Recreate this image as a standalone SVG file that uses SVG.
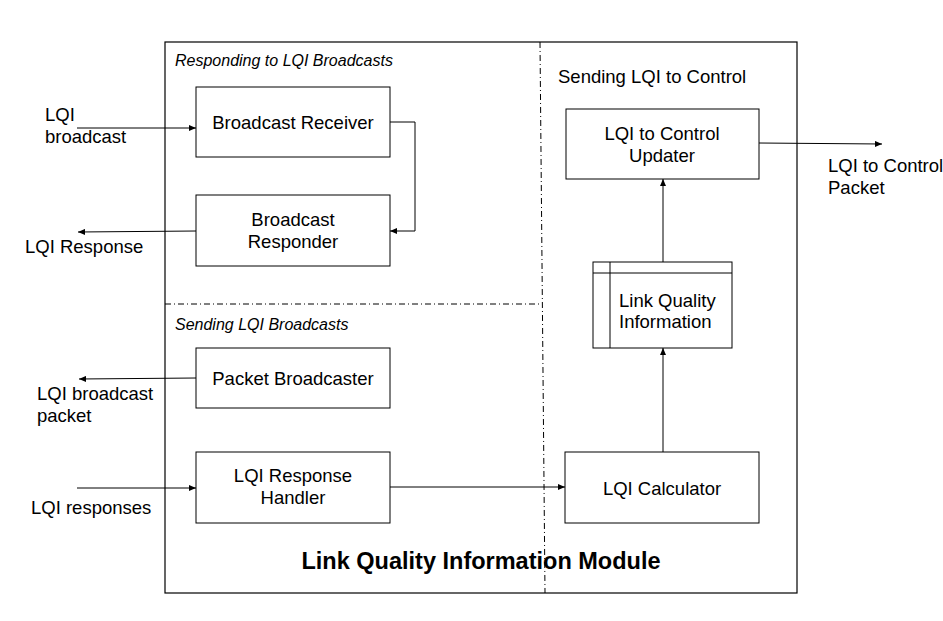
<svg xmlns="http://www.w3.org/2000/svg" width="943" height="621" viewBox="0 0 943 621">
<style>
text{font-family:"Liberation Sans",Arial,sans-serif;fill:#000}
.lbl{font-size:18.5px}
.it{font-size:16px;font-style:italic}
.box{fill:#fff;stroke:#000;stroke-width:1}
.con{fill:none;stroke:#000;stroke-width:1}
.dd{fill:none;stroke:#000;stroke-width:1;stroke-dasharray:6 3 1 3}
</style>
<defs>
<marker id="ah" markerWidth="8" markerHeight="6" refX="7" refY="3" orient="auto" markerUnits="userSpaceOnUse">
<path d="M0,0 L7,3 L0,6 Z" fill="#000"/>
</marker>
</defs>
<rect width="943" height="621" fill="#fff"/>
<g id="module">
<rect x="165" y="42" width="632" height="551" fill="none" stroke="#000" stroke-width="1.2"/>
<line class="dd" x1="540" y1="42" x2="545" y2="593"/>
<line class="dd" x1="165" y1="304" x2="541" y2="304"/>
<text class="it" x="175" y="66">Responding to LQI Broadcasts</text>
<text class="it" x="175" y="330">Sending LQI Broadcasts</text>
<text class="lbl" x="558" y="83">Sending LQI to Control</text>
<text x="481" y="569" text-anchor="middle" font-size="23.5" font-weight="bold">Link Quality Information Module</text>
</g>
<g id="broadcast-receiver">
<rect class="box" x="196" y="87" width="194" height="70"/>
<text class="lbl" x="293" y="129" text-anchor="middle">Broadcast Receiver</text>
</g>
<g id="broadcast-responder">
<rect class="box" x="196" y="195" width="194" height="71"/>
<text class="lbl" x="293" y="226" text-anchor="middle">Broadcast</text>
<text class="lbl" x="293" y="248" text-anchor="middle">Responder</text>
</g>
<g id="packet-broadcaster">
<rect class="box" x="196" y="348" width="194" height="60"/>
<text class="lbl" x="293" y="385" text-anchor="middle">Packet Broadcaster</text>
</g>
<g id="lqi-response-handler">
<rect class="box" x="196" y="452" width="194" height="71"/>
<text class="lbl" x="293" y="482" text-anchor="middle">LQI Response</text>
<text class="lbl" x="293" y="504" text-anchor="middle">Handler</text>
</g>
<g id="lqi-to-control-updater">
<rect class="box" x="566" y="109" width="193" height="70"/>
<text class="lbl" x="662" y="140" text-anchor="middle">LQI to Control</text>
<text class="lbl" x="662" y="162" text-anchor="middle">Updater</text>
</g>
<g id="link-quality-information">
<rect class="box" x="593" y="262" width="139" height="86"/>
<line class="con" x1="610" y1="262" x2="610" y2="348"/>
<line class="con" x1="593" y1="273" x2="732" y2="273"/>
<text class="lbl" x="619" y="307">Link Quality</text>
<text class="lbl" x="619" y="328">Information</text>
</g>
<g id="lqi-calculator">
<rect class="box" x="565" y="452" width="194" height="71"/>
<text class="lbl" x="662" y="495" text-anchor="middle">LQI Calculator</text>
</g>
<g id="external-labels">
<text class="lbl" x="45" y="121">LQI</text>
<text class="lbl" x="45" y="143">broadcast</text>
<text class="lbl" x="25" y="253">LQI Response</text>
<text class="lbl" x="37" y="400">LQI broadcast</text>
<text class="lbl" x="37" y="422">packet</text>
<text class="lbl" x="31" y="514">LQI responses</text>
<text class="lbl" x="828" y="172">LQI to Control</text>
<text class="lbl" x="828" y="194">Packet</text>
</g>
<g id="connectors">
<line class="con" x1="77" y1="128" x2="196" y2="128" marker-end="url(#ah)"/>
<polyline class="con" points="390,122 415,122 415,231 390,231" marker-end="url(#ah)"/>
<line class="con" x1="196" y1="231" x2="78" y2="232" marker-end="url(#ah)"/>
<line class="con" x1="196" y1="378" x2="79" y2="379" marker-end="url(#ah)"/>
<line class="con" x1="77" y1="488" x2="196" y2="488" marker-end="url(#ah)"/>
<line class="con" x1="390" y1="487" x2="565" y2="487" marker-end="url(#ah)"/>
<line class="con" x1="663" y1="452" x2="663" y2="348" marker-end="url(#ah)"/>
<line class="con" x1="663" y1="262" x2="663" y2="179" marker-end="url(#ah)"/>
<line class="con" x1="759" y1="143" x2="882" y2="144" marker-end="url(#ah)"/>
</g>
</svg>
